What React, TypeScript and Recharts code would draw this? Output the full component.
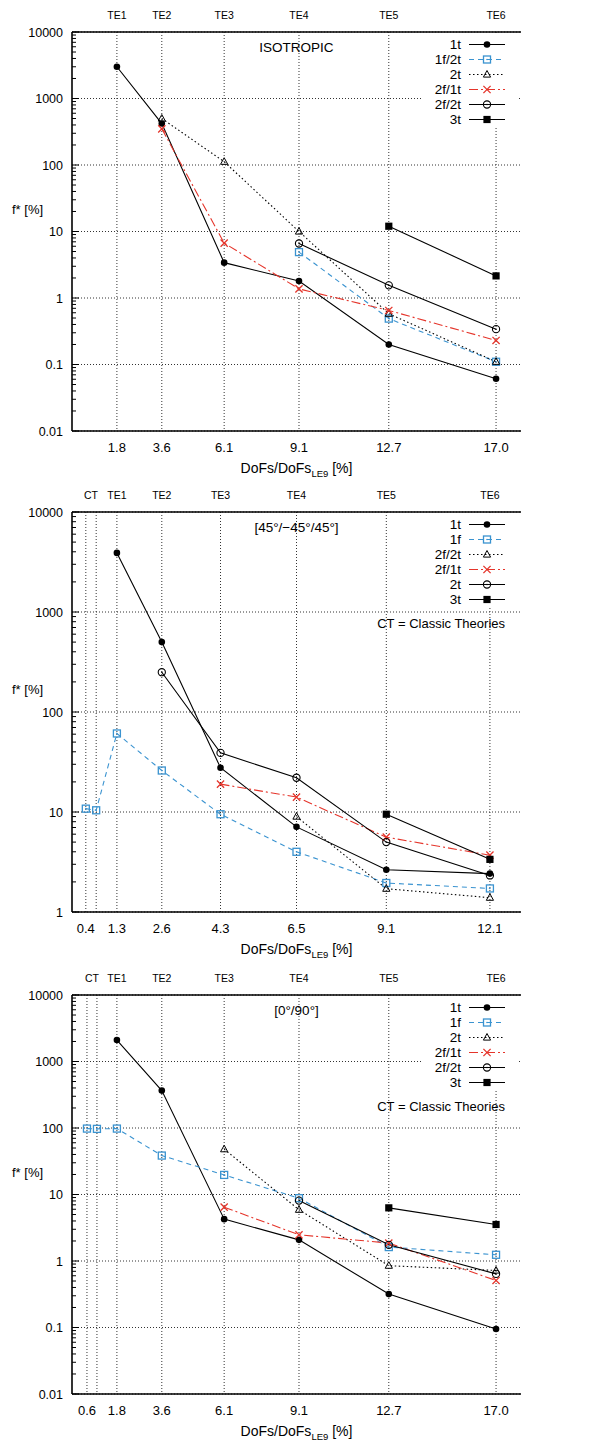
import React from 'react';
import { LineChart, Line, XAxis, YAxis, CartesianGrid, Legend, Customized } from 'recharts';

// ---------- Panel 1: ISOTROPIC ----------
const isoX = [1.8, 3.6, 6.1, 9.1, 12.7, 17.0];
const isoXLabels = ['1.8', '3.6', '6.1', '9.1', '12.7', '17.0'];
const isoTopTicks = [1.8, 3.6, 6.1, 9.1, 12.7, 17.0];
const isoTopLabels = ['TE1', 'TE2', 'TE3', 'TE4', 'TE5', 'TE6'];
const isoNames = ['1t', '1f/2t', '2t', '2f/1t', '2f/2t', '3t'];
const iso1t = [3000, 420, 3.4, 1.8, 0.2, 0.061];
const iso1f2t = [null, null, null, 4.9, 0.49, 0.11];
const iso2t = [null, 500, 112, 10, 0.58, 0.11];
const iso2f1t = [null, 350, 6.7, 1.37, 0.65, 0.23];
const iso2f2t = [null, null, null, 6.6, 1.55, 0.34];
const iso3t = [null, null, null, null, 12, 2.15];
const isoDecades = [0.01, 0.1, 1, 10, 100, 1000, 10000];

// ---------- Panel 2: [45°/−45°/45°] ----------
const angX = [0.4, 0.7, 1.3, 2.6, 4.3, 6.5, 9.1, 12.1];
const angXLabels = ['0.4', '', '1.3', '2.6', '4.3', '6.5', '9.1', '12.1'];
const angTopTicks = [0.55, 1.3, 2.6, 4.3, 6.5, 9.1, 12.1];
const angTopLabels = ['CT', 'TE1', 'TE2', 'TE3', 'TE4', 'TE5', 'TE6'];
const angNames = ['1t', '1f', '2f/2t', '2f/1t', '2t', '3t'];
const ang1t = [null, null, 3900, 500, 27.7, 7.1, 2.65, 2.42];
const ang1f = [10.8, 10.4, 61, 26, 9.5, 4.0, 1.95, 1.72];
const ang2f2t = [null, null, null, null, null, 9.0, 1.71, 1.39];
const ang2f1t = [null, null, null, null, 19, 14.1, 5.6, 3.7];
const ang2t = [null, null, null, 250, 39, 22, 5.0, 2.32];
const ang3t = [null, null, null, null, null, null, 9.5, 3.36];
const angDecades = [1, 10, 100, 1000, 10000];

// ---------- Panel 3: [0°/90°] ----------
const cpX = [0.6, 1.0, 1.8, 3.6, 6.1, 9.1, 12.7, 17.0];
const cpXLabels = ['0.6', '', '1.8', '3.6', '6.1', '9.1', '12.7', '17.0'];
const cpTopTicks = [0.8, 1.8, 3.6, 6.1, 9.1, 12.7, 17.0];
const cpTopLabels = ['CT', 'TE1', 'TE2', 'TE3', 'TE4', 'TE5', 'TE6'];
const cpNames = ['1t', '1f', '2t', '2f/1t', '2f/2t', '3t'];
const cp1t = [null, null, 2100, 365, 4.26, 2.08, 0.318, 0.095];
const cp1f = [98, 97, 98, 38.5, 19.7, 8.8, 1.62, 1.24];
const cp2t = [null, null, null, null, 48, 5.9, 0.85, 0.72];
const cp2f1t = [null, null, null, null, 6.45, 2.48, 1.86, 0.51];
const cp2f2t = [null, null, null, null, null, 8.1, 1.75, 0.64];
const cp3t = [null, null, null, null, null, null, 6.3, 3.54];
const cpDecades = [0.01, 0.1, 1, 10, 100, 1000, 10000];

const FONT = '"Liberation Sans", Arial, sans-serif';
const BLUE = '#3a93d0';
const RED = '#e5352b';

const STYLES = [
  { stroke: '#000', dash: undefined, marker: 'dotFilled' },
  { stroke: BLUE, dash: '5 4', marker: 'squareOpen' },
  { stroke: '#000', dash: '1.5 2.5', marker: 'triangle' },
  { stroke: RED, dash: '9 3 2 3', marker: 'cross' },
  { stroke: '#000', dash: undefined, marker: 'circleOpen' },
  { stroke: '#000', dash: undefined, marker: 'squareFilled' },
];

function Marker({ cx, cy, kind, color }) {
  switch (kind) {
    case 'dotFilled':
      return <circle cx={cx} cy={cy} r={3.3} fill="#000" />;
    case 'squareOpen':
      return (
        <g>
          <rect x={cx - 3.5} y={cy - 3.5} width={7} height={7} fill="none" stroke={color} strokeWidth={1.3} />
          <circle cx={cx} cy={cy} r={0.8} fill={color} />
        </g>
      );
    case 'triangle':
      return <path d={`M${cx},${cy - 4} L${cx + 3.6},${cy + 2.6} L${cx - 3.6},${cy + 2.6} Z`} fill="none" stroke="#000" strokeWidth={1} />;
    case 'cross':
      return (
        <path d={`M${cx - 3.6},${cy - 3.6} L${cx + 3.6},${cy + 3.6} M${cx - 3.6},${cy + 3.6} L${cx + 3.6},${cy - 3.6}`} stroke={color} strokeWidth={1.3} />
      );
    case 'circleOpen':
      return (
        <g>
          <circle cx={cx} cy={cy} r={3.6} fill="none" stroke="#000" strokeWidth={1.1} />
          <circle cx={cx} cy={cy} r={0.7} fill="#000" />
        </g>
      );
    case 'squareFilled':
      return <rect x={cx - 3.6} y={cy - 3.6} width={7.2} height={7.2} fill="#000" />;
    default:
      return null;
  }
}

const isDecade = (v) => Math.abs(Math.log10(v) - Math.round(Math.log10(v))) < 1e-9;

function withMinors(decades) {
  const out = [];
  for (let i = 0; i < decades.length; i++) {
    out.push(decades[i]);
    if (i < decades.length - 1) {
      for (let k = 2; k <= 9; k++) out.push(+(decades[i] * k).toPrecision(6));
    }
  }
  return out;
}

function Panel({ top, height, xs, series, names, xTicks, xLabels, topTicks, topLabels, xDomain, decades, title, showCT }) {
  const rows = xs.map((x, j) => {
    const r = { x };
    series.forEach((s, i) => {
      r['s' + i] = s[j];
    });
    return r;
  });
  const yTicks = withMinors(decades);
  const yDomain = [decades[0], decades[decades.length - 1]];
  const plotTop = 32;
  const plotBottom = height - 49;
  const plotLeft = 72;
  const plotRight = 521;
  const cx = (plotLeft + plotRight) / 2;

  const LeftTick = (p) => {
    const v = p.payload.value;
    const major = isDecade(v);
    return (
      <g>
        <line x1={p.x} x2={p.x + (major ? 7 : 4)} y1={p.y} y2={p.y} stroke="#000" strokeWidth={1} />
        {major && (
          <text x={p.x - 9} y={p.y} dy={4.5} textAnchor="end" fontSize={12.5} fontFamily={FONT} fill="#000">
            {String(v)}
          </text>
        )}
      </g>
    );
  };
  const RightTick = (p) => {
    const v = p.payload.value;
    const major = isDecade(v);
    return <line x1={p.x} x2={p.x - (major ? 7 : 4)} y1={p.y} y2={p.y} stroke="#000" strokeWidth={1} />;
  };
  const BottomTick = (p) => {
    const idx = xTicks.indexOf(p.payload.value);
    return (
      <text x={p.x} y={p.y + 21} textAnchor="middle" fontSize={13} fontFamily={FONT} fill="#000">
        {idx >= 0 ? xLabels[idx] : ''}
      </text>
    );
  };
  const TopTick = (p) => {
    const idx = topTicks.indexOf(p.payload.value);
    return (
      <text x={p.x} y={p.y - 12.7} textAnchor="middle" fontSize={10.5} fontFamily={FONT} fill="#000">
        {idx >= 0 ? topLabels[idx] : ''}
      </text>
    );
  };

  const LegendBox = () => (
    <svg width={98} height={93} style={{ display: 'block', overflow: 'visible' }}>
      <rect x={0} y={0} width={98} height={93} fill="#fff" />
      {names.map((name, i) => {
        const st = STYLES[i];
        const cy = 11.5 + 15 * i;
        return (
          <g key={'lg' + i}>
            <text x={40} y={cy + 4.8} textAnchor="end" fontSize={13.5} fontFamily={FONT} fill="#000">
              {name}
            </text>
            <line x1={48} x2={84} y1={cy} y2={cy} stroke={st.stroke} strokeWidth={1.2} strokeDasharray={st.dash} />
            <Marker cx={66} cy={cy} kind={st.marker} color={st.stroke} />
          </g>
        );
      })}
    </svg>
  );

  const Annot = () => (
    <g fontFamily={FONT} fill="#000">
      <text x={cx} y={plotTop + 20} textAnchor="middle" fontSize={13.5}>
        {title}
      </text>
      {showCT && (
        <text x={505} y={plotTop + 115.5} textAnchor="end" fontSize={13}>
          CT = Classic Theories
        </text>
      )}
      <text x={12} y={plotTop + 182} fontSize={13}>
        f* [%]
      </text>
      <text x={cx} y={plotBottom + 42} textAnchor="middle" fontSize={14}>
        DoFs/DoFs
        <tspan fontSize={9.5} dy={3.5}>LE9</tspan>
        <tspan dy={-3.5}> [%]</tspan>
      </text>
    </g>
  );

  return (
    <div style={{ position: 'absolute', left: 0, top, width: 600, height }}>
      <LineChart width={600} height={height} data={rows} margin={{ top: 2, right: 79, bottom: 19, left: 0 }}>
        <CartesianGrid stroke="#333" strokeWidth={1} strokeDasharray="1 2" horizontalValues={decades} verticalValues={xTicks} />
        <XAxis
          xAxisId={0}
          dataKey="x"
          type="number"
          domain={xDomain}
          allowDataOverflow
          ticks={xTicks}
          interval={0}
          height={30}
          tickSize={0}
          tickMargin={0}
          tickLine={false}
          axisLine={{ stroke: '#000', strokeWidth: 1.6 }}
          tick={BottomTick}
        />
        <XAxis
          xAxisId="top"
          orientation="top"
          dataKey="x"
          type="number"
          domain={xDomain}
          allowDataOverflow
          ticks={topTicks}
          interval={0}
          height={30}
          tickSize={0}
          tickMargin={0}
          tickLine={false}
          axisLine={{ stroke: '#000', strokeWidth: 1.6 }}
          tick={TopTick}
        />
        <YAxis
          yAxisId={0}
          type="number"
          scale="log"
          domain={yDomain}
          allowDataOverflow
          ticks={yTicks}
          interval={0}
          width={72}
          tickSize={0}
          tickMargin={0}
          tickLine={false}
          axisLine={{ stroke: '#000', strokeWidth: 1.6 }}
          tick={LeftTick}
        />
        <YAxis
          yAxisId="r"
          orientation="right"
          type="number"
          scale="log"
          domain={yDomain}
          allowDataOverflow
          ticks={yTicks}
          interval={0}
          width={0}
          tickSize={0}
          tickMargin={0}
          tickLine={false}
          axisLine={{ stroke: '#000', strokeWidth: 1.6 }}
          tick={RightTick}
        />
        {series.map((s, i) => {
          const st = STYLES[i];
          return (
            <Line
              key={'ln' + i}
              xAxisId={0}
              yAxisId={0}
              dataKey={'s' + i}
              name={names[i]}
              type="linear"
              stroke={st.stroke}
              strokeWidth={1.1}
              strokeDasharray={st.dash}
              isAnimationActive={false}
              activeDot={false}
              dot={(p) =>
                p.value == null || p.cx == null || p.cy == null ? (
                  <g key={'d' + i + '-' + p.index} />
                ) : (
                  <g key={'d' + i + '-' + p.index}>
                    <Marker cx={p.cx} cy={p.cy} kind={st.marker} color={st.stroke} />
                  </g>
                )
              }
            />
          );
        })}
        <Customized component={Annot} />
        <Legend
          layout="horizontal"
          verticalAlign="middle"
          align="center"
          itemSorter={null}
          content={LegendBox}
          wrapperStyle={{ position: 'absolute', top: plotTop + 1, left: 421, width: 98, height: 93, margin: 0, padding: 0 }}
        />
      </LineChart>
    </div>
  );
}

export default function App() {
  return (
    <div style={{ position: 'absolute', left: 0, top: 0, width: 600, height: 1445, background: '#fff', fontFamily: FONT }}>
      <Panel
        top={0}
        height={480}
        xs={isoX}
        series={[iso1t, iso1f2t, iso2t, iso2f1t, iso2f2t, iso3t]}
        names={isoNames}
        xTicks={isoX}
        xLabels={isoXLabels}
        topTicks={isoTopTicks}
        topLabels={isoTopLabels}
        xDomain={[0, 18]}
        decades={isoDecades}
        title="ISOTROPIC"
        showCT={false}
      />
      <Panel
        top={480}
        height={481}
        xs={angX}
        series={[ang1t, ang1f, ang2f2t, ang2f1t, ang2t, ang3t]}
        names={angNames}
        xTicks={angX}
        xLabels={angXLabels}
        topTicks={angTopTicks}
        topLabels={angTopLabels}
        xDomain={[0, 13]}
        decades={angDecades}
        title="[45°/−45°/45°]"
        showCT={true}
      />
      <Panel
        top={963}
        height={480}
        xs={cpX}
        series={[cp1t, cp1f, cp2t, cp2f1t, cp2f2t, cp3t]}
        names={cpNames}
        xTicks={cpX}
        xLabels={cpXLabels}
        topTicks={cpTopTicks}
        topLabels={cpTopLabels}
        xDomain={[0, 18]}
        decades={cpDecades}
        title="[0°/90°]"
        showCT={true}
      />
    </div>
  );
}
